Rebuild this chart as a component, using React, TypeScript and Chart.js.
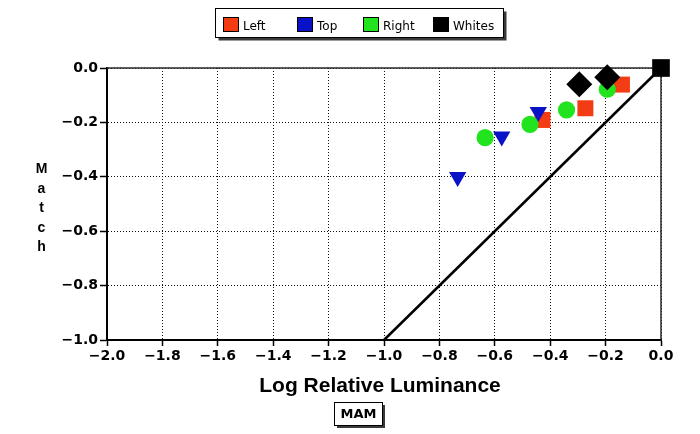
import React, { useEffect, useRef } from 'react';
import { Chart, registerables } from 'chart.js';

Chart.register(...registerables);

// ---- data ----
const seriesNames = ['Left', 'Top', 'Right', 'Whites'];
const seriesColors = ['#f33c14', '#0a12c8', '#22e41e', '#000000'];

const leftX = [-0.141, -0.273, -0.428];
const leftY = [-0.061, -0.148, -0.191];
const topX = [-0.443, -0.575, -0.734];
const topY = [-0.162, -0.252, -0.401];
const rightX = [-0.194, -0.341, -0.473, -0.635];
const rightY = [-0.078, -0.154, -0.207, -0.256];
const whitesX = [-0.295, -0.194, 0.0];
const whitesY = [-0.06, -0.034, 0.0];
const identityX = [-1.0, 0.0];
const identityY = [-1.0, 0.0];

const xMin = -2.0;
const xMax = 0.0;
const yMin = -1.0;
const yMax = 0.0;
const tickStep = 0.2;

const xTitle = 'Log Relative Luminance';
const yTitle = 'Match';
const footLabel = 'MAM';

const pts = (xs: number[], ys: number[]) => xs.map((x, i) => ({ x, y: ys[i] }));
const fmt = (v: number | string) => {
  const n = Number(v);
  const s = Math.abs(n).toFixed(1);
  return n < -1e-9 ? '\u2212' + s : s;
};

const tickFont = { family: 'DejaVu Sans', weight: 'bold' as const, size: 14 };

const framePlugin = {
  id: 'frame',
  beforeDatasetsDraw(chart: any) {
    const { ctx, chartArea: a } = chart;
    ctx.save();
    ctx.strokeStyle = '#2a2a2a';
    ctx.lineWidth = 1.5;
    ctx.beginPath();
    ctx.moveTo(a.left, a.top);
    ctx.lineTo(a.right, a.top);
    ctx.lineTo(a.right, a.bottom);
    ctx.stroke();
    ctx.restore();
  },
};

const decorPlugin = {
  id: 'decor',
  afterDraw(chart: any) {
    const { ctx } = chart;
    ctx.save();
    // legend box
    const lx = 215.5, ly = 8.5, lw = 288, lh = 29;
    ctx.fillStyle = '#3a3a3a';
    ctx.fillRect(lx + 3, ly + 3, lw, lh);
    ctx.fillStyle = '#ffffff';
    ctx.fillRect(lx, ly, lw, lh);
    ctx.strokeStyle = '#000';
    ctx.lineWidth = 1;
    ctx.strokeRect(lx, ly, lw, lh);
    const swatchX = [223, 297, 363, 433];
    ctx.font = '12px "DejaVu Sans"';
    ctx.textBaseline = 'alphabetic';
    ctx.textAlign = 'left';
    seriesNames.forEach((name, i) => {
      const sx = swatchX[i];
      ctx.fillStyle = seriesColors[i];
      ctx.fillRect(sx + 0.5, 17.5, 15, 14);
      ctx.strokeStyle = '#000';
      ctx.strokeRect(sx + 0.5, 17.5, 15, 14);
      ctx.fillStyle = '#000';
      ctx.fillText(name, sx + 20, 30);
    });

    // y title (stacked letters)
    ctx.font = 'bold 14px "Liberation Sans"';
    ctx.textAlign = 'center';
    yTitle.split('').forEach((ch, i) => {
      ctx.fillText(ch, 41.5, 173 + i * 19.5);
    });

    // x title
    ctx.font = 'bold 21px "Liberation Sans"';
    ctx.textAlign = 'center';
    ctx.fillText(xTitle, 380, 392);

    // foot label box
    const bx = 334.5, by = 402.5, bw = 48, bh = 23;
    ctx.fillStyle = '#3a3a3a';
    ctx.fillRect(bx + 2.5, by + 2.5, bw, bh);
    ctx.fillStyle = '#fff';
    ctx.fillRect(bx, by, bw, bh);
    ctx.strokeStyle = '#000';
    ctx.strokeRect(bx, by, bw, bh);
    ctx.fillStyle = '#000';
    ctx.font = 'bold 13px "DejaVu Sans"';
    ctx.textBaseline = 'middle';
    ctx.fillText(footLabel, bx + bw / 2, by + bh / 2 + 1);
    ctx.restore();
  },
};

export default function App() {
  const ref = useRef<HTMLCanvasElement>(null);
  useEffect(() => {
    if (!ref.current) return;
    const chart = new Chart(ref.current, {
      type: 'scatter',
      data: {
        datasets: [
          {
            label: seriesNames[3],
            data: pts(whitesX, whitesY),
            pointStyle: ['rectRot', 'rectRot', 'rect'] as any,
            pointRadius: [13, 13, 12.5] as any,
            backgroundColor: seriesColors[3],
            borderColor: seriesColors[3],
            borderWidth: 0,
            clip: false as any,
            order: 0,
          },
          {
            label: seriesNames[1],
            data: pts(topX, topY),
            pointStyle: 'triangle',
            rotation: 180,
            pointRadius: 10,
            backgroundColor: seriesColors[1],
            borderColor: seriesColors[1],
            borderWidth: 0,
            clip: false as any,
            order: 1,
          },
          {
            label: seriesNames[2],
            data: pts(rightX, rightY),
            pointStyle: 'circle',
            pointRadius: 8.6,
            backgroundColor: seriesColors[2],
            borderColor: seriesColors[2],
            borderWidth: 0,
            clip: false as any,
            order: 2,
          },
          {
            label: seriesNames[0],
            data: pts(leftX, leftY),
            pointStyle: 'rect',
            pointRadius: 11.3,
            backgroundColor: seriesColors[0],
            borderColor: seriesColors[0],
            borderWidth: 0,
            clip: false as any,
            order: 3,
          },
          {
            label: 'identity',
            data: pts(identityX, identityY),
            showLine: true,
            pointRadius: 0,
            borderColor: '#000',
            borderWidth: 2.5,
            fill: false,
            clip: false as any,
            order: 4,
          },
        ],
      },
      options: {
        animation: false,
        responsive: false,
        devicePixelRatio: 1,
        layout: { padding: { top: 68, right: 39, left: 0, bottom: 0 } },
        plugins: { legend: { display: false }, tooltip: { enabled: false } },
        scales: {
          x: {
            type: 'linear',
            min: xMin,
            max: xMax,
            afterFit: (s: any) => { s.height = 94; },
            ticks: {
              stepSize: tickStep,
              callback: (v: any) => fmt(v),
              font: tickFont,
              color: '#000',
              padding: 2,
              maxRotation: 0,
              autoSkip: false,
            },
            grid: { color: '#111', lineWidth: 1, tickLength: 6, tickColor: '#000', tickWidth: 1.5 },
            border: { color: '#000', width: 2, dash: [1, 2] },
          },
          y: {
            type: 'linear',
            min: yMin,
            max: yMax,
            afterFit: (s: any) => { s.width = 107; },
            ticks: {
              stepSize: tickStep,
              callback: (v: any) => fmt(v),
              font: tickFont,
              color: '#000',
              padding: 2,
              autoSkip: false,
            },
            grid: { color: '#111', lineWidth: 1, tickLength: 7, tickColor: '#000', tickWidth: 1.5 },
            border: { color: '#000', width: 2, dash: [1, 2] },
          },
        },
      },
      plugins: [framePlugin, decorPlugin],
    } as any);
    return () => chart.destroy();
  }, []);
  return (
    <div style={{ position: 'fixed', left: 0, top: 0, width: 700, height: 434, background: '#fff' }}>
      <canvas ref={ref} width={700} height={434} style={{ display: 'block', width: 700, height: 434 }} />
    </div>
  );
}
